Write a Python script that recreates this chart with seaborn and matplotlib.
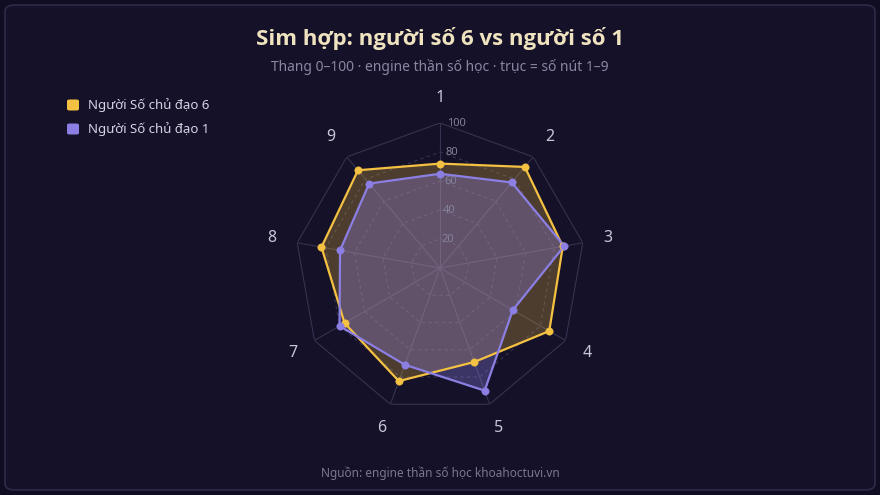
import numpy as np
import seaborn as sns
import matplotlib.pyplot as plt
from matplotlib.patches import FancyBboxPatch

# du lieu doc tu bieu do
truc = ['1', '2', '3', '4', '5', '6', '7', '8', '9']
nguoi6 = [72, 91, 86, 87, 69, 83, 76, 83, 88]
nguoi1 = [65, 77, 87, 58, 90, 71, 80, 70, 76]
ten_6 = 'Người Số chủ đạo 6'
ten_1 = 'Người Số chủ đạo 1'
muc = [20, 40, 60, 80, 100]

nen = '#141129'
vang = '#f5c142'
tim = '#8c7fe3'
luoi = '#363350'

sns.set_theme(style='dark')
plt.rcParams['font.family'] = ['Noto Sans', 'DejaVu Sans']

fig = plt.figure(figsize=(8.8, 4.95), dpi=100)
fig.patch.set_facecolor('#100d22')

# khung bo tron
khung = FancyBboxPatch((5 / 880, 5 / 495), 870 / 880, 485 / 495,
                       boxstyle='round,pad=0,rounding_size=0.012',
                       transform=fig.transFigure, facecolor=nen,
                       edgecolor='#2e2b48', linewidth=1.2, zorder=-5)
fig.patches.append(khung)

ax = fig.add_axes([295 / 880, 82 / 495, 290 / 880, 290 / 495], projection='polar')
ax.set_facecolor('none')
ax.set_theta_offset(np.pi / 2)
ax.set_theta_direction(-1)
ax.grid(False)
ax.spines['polar'].set_visible(False)

n = len(truc)
goc = np.linspace(0, 2 * np.pi, n, endpoint=False)
goc_kin = np.append(goc, goc[0])

# luoi hinh da giac
for m in muc:
    ax.plot(goc_kin, [m] * (n + 1), color=luoi, lw=0.8,
            ls='-' if m == 100 else (0, (3, 3)), zorder=1)
for g in goc:
    ax.plot([g, g], [0, 100], color=luoi, lw=0.8, zorder=1)

for gia_tri, mau, ten, a in [(nguoi6, vang, ten_6, 0.25), (nguoi1, tim, ten_1, 0.33)]:
    r = np.append(gia_tri, gia_tri[0])
    ax.fill(goc_kin, r, color=mau, alpha=a, zorder=2, lw=0)
    sns.lineplot(x=goc_kin, y=r, sort=False, color=mau, lw=1.6, ax=ax,
                 zorder=3, estimator=None)
    sns.scatterplot(x=goc, y=gia_tri, color=mau, s=28, edgecolor=mau,
                    ax=ax, zorder=4, legend=False)

for m in muc:
    ax.text(0.05, m, str(m), color='#85819b', fontsize=8,
            ha='left', va='center', zorder=5)

for g, t in zip(goc, truc):
    ax.text(g, 117.5, t, color='#c8c5d8', fontsize=11.5, ha='center', va='center')

ax.set_ylim(0, 100)
ax.set_xticks([])
ax.set_yticks([])
ax.set_xlabel('')
ax.set_ylabel('')

# chu thich
for i, (ten, mau) in enumerate([(ten_6, vang), (ten_1, tim)]):
    y = 1 - 105 / 495 - i * 24 / 495
    fig.patches.append(FancyBboxPatch((67 / 880, y - 5.5 / 495), 12 / 880, 11 / 495,
                                      boxstyle='round,pad=0,rounding_size=0.003',
                                      transform=fig.transFigure, facecolor=mau,
                                      edgecolor='none'))
    fig.text(88 / 880, y, ten, color='#d6d2e6', fontsize=9.5, va='center', ha='left')

fig.text(0.5, 1 - 38 / 495, 'Sim hợp: người số 6 vs người số 1', color='#efe2bf',
         fontsize=16, fontweight='bold', ha='center', va='center',
         family=['Open Sans', 'DejaVu Sans'])
fig.text(0.5, 1 - 67 / 495, 'Thang 0–100 · engine thần số học · trục = số nút 1–9',
         color='#8a86a3', fontsize=10, ha='center', va='center')
fig.text(0.5, 1 - 473 / 495, 'Nguồn: engine thần số học khoahoctuvi.vn',
         color='#7a7792', fontsize=8.5, ha='center', va='center')

fig.savefig('out.png', dpi=100, facecolor=fig.get_facecolor())
